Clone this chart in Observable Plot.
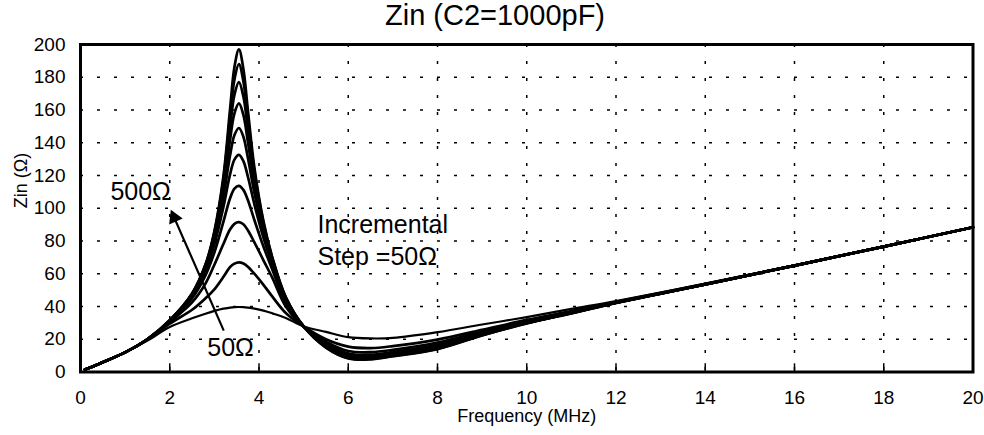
<!DOCTYPE html>
<html>
<head>
<meta charset="utf-8">
<script src="https://cdn.jsdelivr.net/npm/d3@7"></script>
<script src="https://cdn.jsdelivr.net/npm/@observablehq/plot@0.6"></script>
<style>
  html, body { margin: 0; padding: 0; background: #fff; }
  #title { height: 34px; line-height: 31px; text-align: center; font-family: "Liberation Sans", Arial, sans-serif; font-size: 29px; color: #000; padding-left: 6px; }
  #chart svg { display: block; }
</style>
</head>
<body>
<div id="title">Zin (C2=1000pF)</div>
<div id="chart"></div>
<script>
// Frequency sample points (MHz)
const freq = [0.1, 0.5, 1, 1.5, 2, 2.5, 2.8, 3.0, 3.2, 3.35, 3.45, 3.55, 3.65, 3.75, 3.9, 4.1, 4.3, 4.6, 5.0, 5.5, 6.0, 6.5, 7.0, 8, 9, 10, 11, 12, 14, 16, 18, 20];

// Zin (ohm) for load R = 50 ... 500 ohm
const z50  = [1.5, 6.0, 12.0, 19.2, 27.5, 32.8, 35.6, 37.3, 38.7, 39.3, 39.6, 39.7, 39.6, 39.3, 38.7, 37.5, 35.8, 33.0, 27.8, 24.5, 21.3, 20.5, 20.8, 24.3, 29.0, 33.5, 38.5, 43.3, 54.0, 65.2, 76.7, 88.4];
const z100 = [1.5, 6.0, 12.0, 19.6, 29.5, 38.0, 45.0, 50.5, 58.0, 64.0, 66.2, 67.0, 66.3, 64.3, 59.9, 53.2, 46.0, 36.0, 27.8, 20.0, 15.5, 14.6, 15.8, 19.8, 25.8, 31.8, 37.2, 42.8, 53.8, 65.0, 76.6, 88.4];
const z150 = [1.5, 6.0, 12.0, 20.0, 30.5, 42.5, 54.0, 65.5, 78.0, 87.0, 90.5, 91.5, 90.2, 86.6, 79.0, 68.2, 57.5, 40.0, 27.8, 18.5, 12.8, 12.1, 13.5, 18.0, 24.8, 31.0, 36.8, 42.6, 53.6, 65.0, 76.6, 88.4];
const z200 = [1.5, 6.0, 12.0, 20.0, 31.0, 45.0, 59.0, 73.0, 91.5, 106.0, 112.0, 113.7, 111.2, 105.0, 92.5, 76.6, 62.5, 42.0, 27.8, 17.3, 11.3, 10.6, 12.2, 16.8, 24.0, 30.6, 36.5, 42.5, 53.5, 65.0, 76.6, 88.4];
const z250 = [1.5, 6.0, 12.0, 20.0, 31.2, 46.0, 61.5, 78.0, 100.5, 120.5, 129.7, 132.6, 128.8, 119.4, 102.1, 82.0, 65.5, 43.5, 27.8, 16.6, 10.3, 9.6, 11.4, 16.0, 23.5, 30.3, 36.3, 42.4, 53.5, 65.0, 76.6, 88.4];
const z300 = [1.5, 6.0, 12.0, 20.0, 31.3, 46.8, 63.0, 81.0, 106.5, 132.0, 144.7, 149.0, 143.7, 131.0, 109.0, 85.4, 67.0, 44.3, 27.8, 16.1, 9.7, 9.1, 10.8, 15.4, 23.2, 30.1, 36.2, 42.4, 53.5, 65.0, 76.6, 88.4];
const z350 = [1.5, 6.0, 12.0, 20.0, 31.4, 47.2, 64.0, 83.0, 111.0, 141.5, 158.0, 164.0, 157.0, 140.8, 114.5, 87.9, 68.0, 44.8, 27.8, 15.7, 9.2, 8.6, 10.4, 15.0, 22.9, 30.0, 36.1, 42.3, 53.5, 65.0, 76.6, 88.4];
const z400 = [1.5, 6.0, 12.0, 20.0, 31.5, 47.5, 64.7, 84.3, 114.5, 149.0, 169.3, 177.0, 168.2, 148.6, 118.4, 89.5, 68.8, 45.2, 27.8, 15.4, 8.9, 8.3, 10.1, 14.6, 22.7, 29.9, 36.0, 42.3, 53.5, 65.0, 76.6, 88.4];
const z450 = [1.5, 6.0, 12.0, 20.0, 31.5, 47.8, 65.2, 85.2, 117.0, 155.5, 178.7, 188.0, 177.6, 155.1, 121.7, 91.1, 69.4, 45.5, 27.8, 15.1, 8.6, 8.0, 9.8, 14.3, 22.5, 29.8, 35.9, 42.2, 53.5, 65.0, 76.6, 88.4];
const z500 = [1.5, 6.0, 12.0, 20.0, 31.6, 48.0, 65.6, 86.0, 119.0, 160.0, 186.3, 197.0, 185.1, 160.0, 124.1, 92.0, 69.8, 45.7, 27.8, 14.9, 8.3, 7.7, 9.6, 14.0, 22.3, 29.7, 35.8, 42.2, 53.5, 65.0, 76.6, 88.4];

const loads = [50, 100, 150, 200, 250, 300, 350, 400, 450, 500];
const xTicks = [0, 2, 4, 6, 8, 10, 12, 14, 16, 18, 20];
const yTicks = [0, 20, 40, 60, 80, 100, 120, 140, 160, 180, 200];

// Annotations (data coordinates)
const noteText = ["500Ω", "50Ω", "Incremental", "Step =50Ω"];
const noteF    = [0.67, 2.84, 5.31, 5.31];
const noteZ    = [110, 14.4, 90, 70];
// Arrow from the 50Ω label toward the 500Ω label
const arrowFrom = {f: 3.21, z: 25.3};
const arrowTo   = {f: 2.10, z: 94.3};

const seriesArrays = [z50, z100, z150, z200, z250, z300, z350, z400, z450, z500];
const rows = [];
seriesArrays.forEach((arr, i) => arr.forEach((v, j) => rows.push({f: freq[j], z: v, r: loads[i]})));
const notes = noteText.map((t, i) => ({t, f: noteF[i], z: noteZ[i]}));

const font = "'Liberation Sans', Arial, Helvetica, sans-serif";
const gridStyle = {stroke: "#000", strokeOpacity: 1, strokeWidth: 1.5, strokeDasharray: "3,14"};

const chart = Plot.plot({
  width: 984,
  height: 401,
  marginTop: 10,
  marginBottom: 63.5,
  marginLeft: 80,
  marginRight: 11.5,
  style: {fontFamily: font, fontSize: "19px", color: "#000", background: "#fff"},
  x: {domain: [0, 20], label: null},
  y: {domain: [0, 200], label: null},
  marks: [
    Plot.gridX(xTicks.slice(1, -1), gridStyle),
    Plot.gridY(yTicks.slice(1, -1), gridStyle),
    Plot.ruleX(xTicks.slice(1, -1), {y1: 0, y2: 5, stroke: "#000", strokeWidth: 1.5}),
    Plot.axisX(xTicks, {tickSize: 0, tickPadding: 18, fontSize: 19, label: null}),
    Plot.axisY(yTicks, {tickSize: 0, tickPadding: 15, fontSize: 19, label: null}),
    Plot.text(["Frequency (MHz)"], {frameAnchor: "bottom", dy: 50, fontSize: 18}),
    Plot.text(["Zin (Ω)"], {frameAnchor: "left", dx: -59, rotate: -90, fontSize: 18}),
    Plot.line(rows.filter(d => d.r !== 50), {x: "f", y: "z", z: "r", stroke: "#000", strokeWidth: 2.7, curve: "catmull-rom"}),
    Plot.line(rows.filter(d => d.r === 50), {x: "f", y: "z", stroke: "#000", strokeWidth: 2.2, curve: "catmull-rom"}),
    Plot.link([arrowFrom], {x1: "f", y1: "z", x2: () => arrowTo.f, y2: () => arrowTo.z, stroke: "#000", strokeWidth: 2.2}),
    Plot.dot([arrowTo], {x: "f", y: "z", symbol: "triangle", r: 5.5, fill: "#000", stroke: "none", rotate: -23.6}),
    Plot.text(notes, {x: "f", y: "z", text: "t", textAnchor: "start", lineAnchor: "middle", fontSize: 25}),
    Plot.frame({stroke: "#000", strokeWidth: 3})
  ]
});
document.getElementById("chart").appendChild(chart);
</script>
</body>
</html>
